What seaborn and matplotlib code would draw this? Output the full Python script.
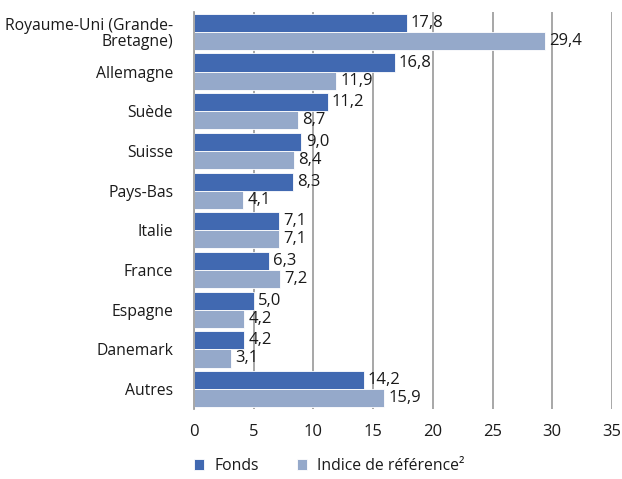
import matplotlib
matplotlib.use("Agg")
import matplotlib.pyplot as plt
import seaborn as sns
import pandas as pd

categories = ["Royaume-Uni (Grande-\nBretagne)", "Allemagne", "Suède", "Suisse", "Pays-Bas",
              "Italie", "France", "Espagne", "Danemark", "Autres"]
fonds = [17.8, 16.8, 11.2, 9.0, 8.3, 7.1, 6.3, 5.0, 4.2, 14.2]
indice = [29.4, 11.9, 8.7, 8.4, 4.1, 7.1, 7.2, 4.2, 3.1, 15.9]
series_names = ["Fonds", "Indice de référence²"]
x_ticks = [0, 5, 10, 15, 20, 25, 30, 35]

sns.set_theme(style="white")
plt.rcParams['font.family'] = ['Open Sans', 'DejaVu Sans']

df = pd.DataFrame({
    "pays": categories * 2,
    "valeur": fonds + indice,
    "serie": [series_names[0]] * len(categories) + [series_names[1]] * len(categories),
})

FS = 11.3
fig = plt.figure(figsize=(6.22, 4.79), dpi=100)
ax = fig.add_axes([194 / 622, 1 - 409 / 479, (612 - 194) / 622, (409 - 12) / 479])

sns.barplot(data=df, y="pays", x="valeur", hue="serie", orient="h",
            palette=["#4169B1", "#95A9CA"], saturation=1, width=0.91, ax=ax,
            edgecolor="white", linewidth=0.6, legend=True)

for cont in ax.containers:
    labels = [f"{b.get_width():.1f}".replace('.', ',') for b in cont]
    ax.bar_label(cont, labels=labels, padding=3, fontsize=12, color="#1a1a1a")

ax.set_xlim(0, 35)
ax.set_ylim(len(categories) - 0.5, -0.5)
ax.set_xticks(x_ticks)
ax.set_xticklabels([str(t) for t in x_ticks], fontsize=12, color="#1a1a1a")
ax.tick_params(axis="y", labelsize=FS, labelcolor="#1a1a1a", length=0, pad=15)
ax.tick_params(axis="x", length=0, pad=11)
for lab in ax.get_yticklabels():
    lab.set_horizontalalignment("right")
    lab.set_multialignment("right")
    lab.set_linespacing(1.0)
ax.set_xlabel("")
ax.set_ylabel("")
ax.xaxis.grid(True, color="#A0A0A0", linewidth=1.3)
ax.set_axisbelow(True)
for s in ["top", "right", "bottom"]:
    ax.spines[s].set_visible(False)
ax.spines["left"].set_color("#A0A0A0")
ax.spines["left"].set_linewidth(1.3)

handles, labels = ax.get_legend_handles_labels()
ax.get_legend().remove()
fig.legend(handles, labels, loc="center left", bbox_to_anchor=(180 / 622, 1 - 466 / 479),
           ncol=2, frameon=False, fontsize=FS, handlelength=0.65, handleheight=0.65,
           handletextpad=0.65, columnspacing=2.4, labelcolor="#1a1a1a")

fig.savefig("out.png", dpi=100)
